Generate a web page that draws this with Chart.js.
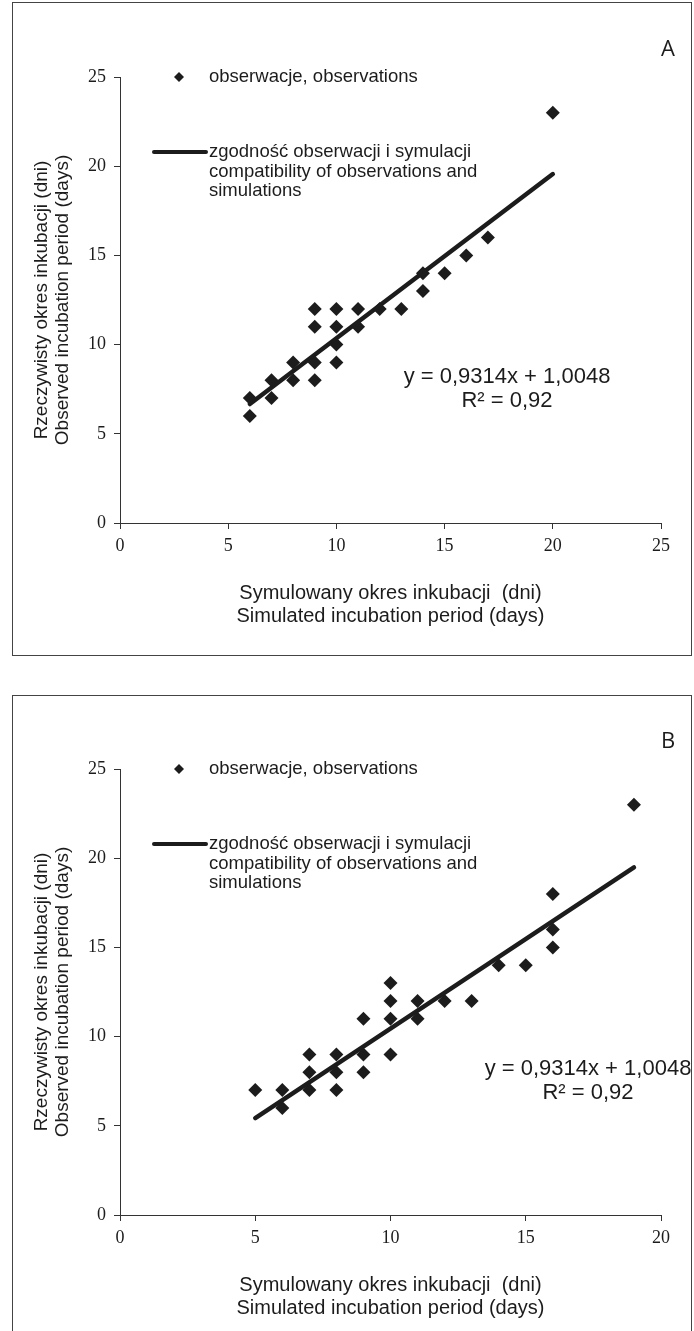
<!DOCTYPE html>
<html>
<head>
<meta charset="utf-8">
<script src="https://cdn.jsdelivr.net/npm/chart.js@4.4.1/dist/chart.umd.min.js"></script>
<style>
  body { margin: 0; background: #fff; }
  #page { position: relative; width: 694px; height: 1331px; overflow: hidden; }
  .frame { position: absolute; left: 12px; width: 680px; border: 1.5px solid #444; box-sizing: border-box; }
  canvas { position: absolute; left: 0; }
</style>
</head>
<body>
<div id="page">
  <div class="frame" style="top:2px;height:654px"></div>
  <canvas id="chartA" width="694" height="660" style="top:0px"></canvas>
  <div class="frame" style="top:695px;height:660px"></div>
  <canvas id="chartB" width="694" height="660" style="top:692px"></canvas>
</div>

<script>
// =====================
// Data
// =====================
// Panel A
const obsAx = [6, 6, 7, 7, 8, 8, 9, 9, 9, 9, 10, 10, 10, 10, 11, 11, 12, 13, 14, 14, 15, 16, 17, 20];
const obsAy = [7, 6, 7, 8, 8, 9, 8, 9, 11, 12, 9, 10, 11, 12, 11, 12, 12, 12, 13, 14, 14, 15, 16, 23];
const trendAx = [6, 20];
const trendAy = [6.67, 19.56];
const xTicksA = [0, 5, 10, 15, 20, 25];

// Panel B
const obsBx = [5, 6, 6, 7, 7, 7, 8, 8, 8, 9, 9, 9, 10, 10, 10, 10, 11, 11, 12, 13, 14, 15, 16, 16, 16, 19];
const obsBy = [7, 7, 6, 7, 8, 9, 7, 8, 9, 8, 9, 11, 9, 11, 12, 13, 11, 12, 12, 12, 14, 14, 15, 16, 18, 23];
const trendBx = [5, 19];
const trendBy = [5.43, 19.48];
const xTicksB = [0, 5, 10, 15, 20];

const yTicks = [0, 5, 10, 15, 20, 25];

// Texts
const xTitle = ["Symulowany okres inkubacji  (dni)", "Simulated incubation period (days)"];
const yTitle = ["Rzeczywisty okres inkubacji (dni)", "Observed incubation period (days)"];
const legendObs = "obserwacje, observations";
const legendLine = ["zgodność obserwacji i symulacji", "compatibility of observations and", "simulations"];
const equation = ["y = 0,9314x + 1,0048", "R² = 0,92"];

// =====================
// Styles
// =====================
const INK = "#1c1c1c";
const SANS = "'Liberation Sans', Arial, sans-serif";
const SERIF = "'Liberation Serif', 'Times New Roman', serif";

// =====================
// Legend, equation and panel letter
// =====================
const extras = {
  id: "extras",
  afterDraw(chart, args, opts) {
    const ctx = chart.ctx;
    ctx.save();
    ctx.fillStyle = INK;
    ctx.strokeStyle = INK;

    // panel letter
    ctx.font = "22px 'Open Sans', sans-serif";
    ctx.textAlign = "center";
    ctx.textBaseline = "middle";
    ctx.fillText(opts.letter, 668, 50);

    // legend: observations
    ctx.beginPath();
    ctx.moveTo(179, 72);
    ctx.lineTo(184, 77);
    ctx.lineTo(179, 82);
    ctx.lineTo(174, 77);
    ctx.closePath();
    ctx.fill();
    ctx.font = "18.5px " + SANS;
    ctx.textAlign = "left";
    ctx.fillText(legendObs, 209, 77);

    // legend: line
    ctx.lineWidth = 4;
    ctx.lineCap = "round";
    ctx.beginPath();
    ctx.moveTo(154, 152);
    ctx.lineTo(206, 152);
    ctx.stroke();
    legendLine.forEach((t, i) => ctx.fillText(t, 209, 152 + i * 19.5));

    // regression equation
    ctx.font = "22px " + SANS;
    ctx.textAlign = "center";
    equation.forEach((t, i) => ctx.fillText(t, opts.eqX, 377 + i * 23.5));

    ctx.restore();
  },
};

// =====================
// Build one panel
// =====================
function buildChart(id, obsX, obsY, trendX, trendY, xTicks, opts) {
  const points = obsX.map((x, i) => ({ x, y: obsY[i] }));
  const trend = trendX.map((x, i) => ({ x, y: trendY[i] }));

  return new Chart(document.getElementById(id), {
    type: "scatter",
    data: {
      datasets: [
        {
          label: legendObs,
          data: points,
          pointStyle: "rectRot",
          pointRadius: 7,
          backgroundColor: INK,
          borderWidth: 0,
        },
        {
          type: "line",
          label: legendLine.join(" "),
          data: trend,
          borderColor: INK,
          borderWidth: 4.5,
          borderCapStyle: "round",
          pointRadius: 0,
          fill: false,
        },
      ],
    },
    options: {
      responsive: false,
      animation: false,
      layout: { padding: { left: 0, right: 33, top: 77, bottom: 0 } },
      scales: {
        x: {
          type: "linear",
          min: xTicks[0],
          max: xTicks[xTicks.length - 1],
          afterBuildTicks: (s) => { s.ticks = xTicks.map((v) => ({ value: v })); },
          afterFit: (s) => { s.height = 137; },
          grid: { drawOnChartArea: false, drawTicks: true, tickLength: 6, color: "#333", lineWidth: 1 },
          border: { display: true, color: "#333", width: 1 },
          ticks: { color: INK, font: { family: SERIF, size: 18 }, padding: 6, maxRotation: 0 },
          title: {
            display: true,
            text: xTitle,
            color: INK,
            font: { family: SANS, size: 20, lineHeight: 1.15 },
            padding: { top: 0, bottom: 32 },
          },
        },
        y: {
          type: "linear",
          min: yTicks[0],
          max: yTicks[yTicks.length - 1],
          afterBuildTicks: (s) => { s.ticks = yTicks.map((v) => ({ value: v })); },
          afterFit: (s) => { s.width = 120; },
          grid: { drawOnChartArea: false, drawTicks: true, tickLength: 6, color: "#333", lineWidth: 1 },
          border: { display: true, color: "#333", width: 1 },
          ticks: { color: INK, font: { family: SERIF, size: 18 }, padding: 8 },
          title: {
            display: true,
            text: yTitle,
            color: INK,
            font: { family: SANS, size: 19, lineHeight: 1.1 },
            padding: { top: 31, bottom: 0 },
          },
        },
      },
      plugins: {
        legend: { display: false },
        tooltip: { enabled: false },
        extras: opts,
      },
    },
    plugins: [extras],
  });
}

buildChart("chartA", obsAx, obsAy, trendAx, trendAy, xTicksA, { letter: "A", eqX: 507 });
buildChart("chartB", obsBx, obsBy, trendBx, trendBy, xTicksB, { letter: "B", eqX: 588 });
</script>
</body>
</html>
